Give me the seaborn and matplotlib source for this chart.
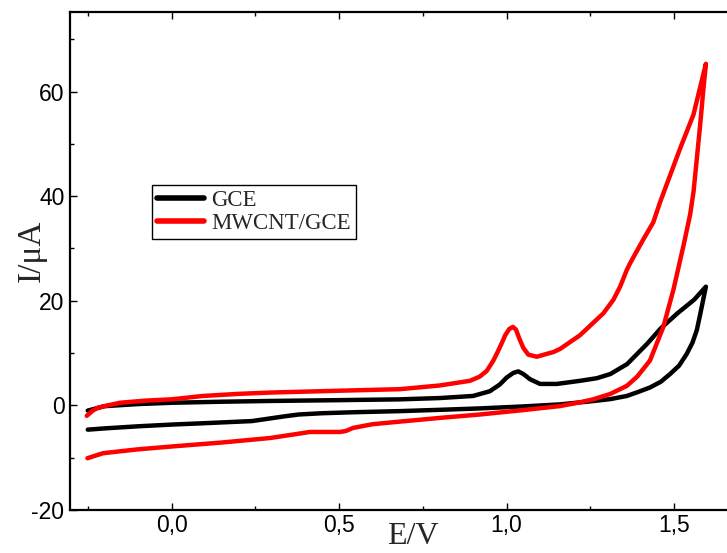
import numpy as np
import pandas as pd
import matplotlib
matplotlib.use("Agg")
import matplotlib.pyplot as plt
import seaborn as sns
from matplotlib.ticker import MultipleLocator, FuncFormatter

# ---- data ----
E_gce = [-0.25, -0.20, -0.10, 0.00, 0.15, 0.30, 0.50, 0.68, 0.80, 0.90, 0.95, 0.98,
         1.00, 1.02, 1.035, 1.05, 1.07, 1.10, 1.15, 1.22, 1.27, 1.31, 1.36, 1.42,
         1.46, 1.51, 1.56, 1.595,
         1.587, 1.575, 1.568, 1.555, 1.538, 1.515, 1.488, 1.46, 1.428, 1.39, 1.359,
         1.31, 1.259, 1.16, 1.05, 0.92, 0.80, 0.68, 0.55, 0.45, 0.38, 0.34, 0.24,
         0.10, 0.00, -0.10, -0.20, -0.25]
I_gce = [-1.0, -0.15, 0.25, 0.5, 0.7, 0.85, 1.0, 1.15, 1.4, 1.8, 2.7, 4.0,
         5.3, 6.2, 6.5, 6.0, 5.0, 4.1, 4.1, 4.7, 5.2, 6.0, 7.9, 11.8,
         14.7, 17.6, 20.2, 22.7,
         20.2, 16.5, 14.4, 12.0, 9.86, 7.6, 5.99, 4.5, 3.42, 2.5, 1.8,
         1.2, 0.83, 0.19, -0.2, -0.58, -0.85, -1.1, -1.3, -1.5, -1.74, -2.07, -3.0,
         -3.4, -3.67, -4.0, -4.4, -4.64]

E_mw = [-0.253, -0.235, -0.22, -0.19, -0.154, -0.08, 0.00, 0.094, 0.20, 0.294,
        0.50, 0.682, 0.80, 0.891, 0.92, 0.941, 0.96, 0.971, 0.985, 0.996, 1.008,
        1.019, 1.028, 1.038, 1.05, 1.065, 1.09, 1.14, 1.16, 1.219, 1.289, 1.319,
        1.339, 1.359, 1.369, 1.408, 1.438, 1.458, 1.518, 1.558, 1.595,
        1.587, 1.578, 1.568, 1.558, 1.548, 1.528, 1.498, 1.468, 1.428, 1.39, 1.359,
        1.31, 1.259, 1.22, 1.16, 1.05, 0.921, 0.80, 0.682, 0.60, 0.542, 0.52,
        0.503, 0.413, 0.35, 0.294, 0.15, 0.00, -0.10, -0.204, -0.251]
I_mw = [-2.0, -1.0, -0.45, 0.0, 0.5, 0.9, 1.16, 1.8, 2.2, 2.45,
        2.8, 3.1, 3.8, 4.7, 5.5, 6.6, 8.5, 9.9, 11.8, 13.4, 14.6,
        15.0, 14.5, 12.8, 11.0, 9.7, 9.3, 10.2, 10.8, 13.4, 17.6, 20.2,
        22.7, 25.9, 27.2, 31.7, 35.0, 38.8, 49.1, 55.6, 65.3,
        60.1, 53.7, 47.2, 40.8, 36.5, 30.5, 22.1, 15.0, 8.56, 5.5, 3.73,
        2.2, 1.16, 0.6, -0.13, -0.9, -1.74, -2.4, -3.1, -3.6, -4.31, -4.9,
        -5.08, -5.08, -5.7, -6.24, -7.1, -7.86, -8.4, -9.14, -10.1]

labels = ["GCE", "MWCNT/GCE"]
colors = ["#000000", "#ff0000"]
x_ticks = [0.0, 0.5, 1.0, 1.5]
y_ticks = [-20, 0, 20, 40, 60]

sns.set_style("ticks")
plt.rcParams["font.family"] = ["Liberation Sans", "DejaVu Sans"]
plt.rcParams["axes.unicode_minus"] = False

W, H = 727, 553
fig = plt.figure(figsize=(W / 100, H / 100), dpi=100)
L, R, T, B = 70, 727, 12, 510
ax = fig.add_axes([L / W, (H - B) / H, (R - L) / W, (B - T) / H])

for E, I, lab, c in zip([E_gce, E_mw], [I_gce, I_mw], labels, colors):
    df = pd.DataFrame({"E": E, "I": I})
    sns.lineplot(data=df, x="E", y="I", sort=False, estimator=None, ax=ax,
                 color=c, lw=3.2, label=lab, solid_joinstyle="round",
                 solid_capstyle="round")

ax.set_xlim(-0.303, 1.658)
ax.set_ylim(-20, 75.2)
ax.set_xticks(x_ticks)
ax.set_yticks(y_ticks)
ax.xaxis.set_minor_locator(MultipleLocator(0.25))
ax.yaxis.set_minor_locator(MultipleLocator(10))
ax.xaxis.set_major_formatter(FuncFormatter(lambda v, p: f"{v:.1f}".replace(".", ",")))
ax.yaxis.set_major_formatter(FuncFormatter(lambda v, p: f"{int(round(v))}"))
ax.tick_params(which="both", direction="in", top=True, right=False,
               labelsize=16.5, colors="black", width=1.0)
ax.tick_params(which="major", length=5)
ax.tick_params(which="minor", length=3)
ax.tick_params(axis="x", pad=3)
ax.tick_params(axis="y", pad=4)
for s in ["left", "bottom", "top"]:
    ax.spines[s].set_visible(True)
    ax.spines[s].set_linewidth(1.6)
    ax.spines[s].set_color("black")
ax.spines["right"].set_visible(False)

ax.set_xlabel("E/V", family=["Liberation Serif", "DejaVu Serif"], fontsize=23)
ax.set_ylabel("I/\u03bcA", family=["Liberation Serif", "DejaVu Serif"], fontsize=24)
ax.xaxis.set_label_coords(0.522, -0.024)
ax.yaxis.set_label_coords(-0.036, 0.52)

leg = ax.legend(loc="upper left", bbox_to_anchor=((152 - L) / (R - L), (B - 185) / (B - T)),
                borderaxespad=0, frameon=True, fancybox=False, edgecolor="black",
                framealpha=1, prop={"family": ["Liberation Serif", "DejaVu Serif"], "size": 16.5},
                handlelength=2.05, handletextpad=0.35, labelspacing=0.12,
                borderpad=0.2)
leg.get_frame().set_linewidth(1.0)
for h in leg.get_lines():
    h.set_linewidth(4)

fig.savefig("out.png", dpi=100)
